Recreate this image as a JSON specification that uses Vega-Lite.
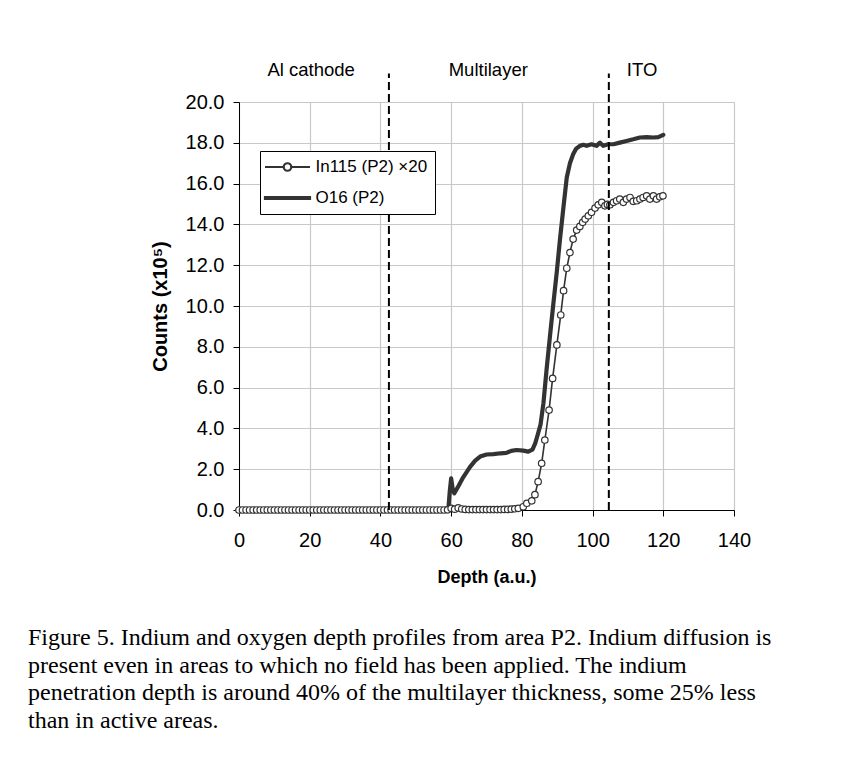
{
  "$schema": "https://vega.github.io/schema/vega-lite/v6.json",
  "width": 495,
  "height": 408,
  "autosize": {"type": "none"},
  "padding": {"left": 239, "top": 102, "right": 130, "bottom": 264},
  "background": "white",
  "config": {
    "view": {"stroke": null},
    "font": "Liberation Sans",
    "axis": {
      "domainColor": "#000000",
      "domainWidth": 1,
      "tickColor": "#000000",
      "tickWidth": 1,
      "gridColor": "#c8c8c8",
      "gridWidth": 1.2,
      "labelFont": "Liberation Sans",
      "labelFontSize": 20,
      "labelColor": "#000000",
      "titleFont": "Liberation Sans",
      "titleFontSize": 18,
      "titleFontWeight": "bold",
      "titleColor": "#000000",
      "labelFlush": false,
      "labelOverlap": false
    }
  },
  "title": {
    "text": [
      "Figure 5. Indium and oxygen depth profiles from area P2. Indium diffusion is",
      "present even in areas to which no field has been applied. The indium",
      "penetration depth is around 40% of the multilayer thickness, some 25% less",
      "than in active areas."
    ],
    "orient": "bottom",
    "anchor": "start",
    "frame": "group",
    "dx": -211,
    "offset": 40,
    "font": "Liberation Serif",
    "fontSize": 24,
    "fontWeight": "normal",
    "lineHeight": 27.5,
    "color": "#000000"
  },
  "datasets": {
    "in115": [
      {"depth": 0, "counts": 0, "series": "In115 (P2) ×20"},
      {"depth": 1, "counts": 0, "series": "In115 (P2) ×20"},
      {"depth": 2, "counts": 0, "series": "In115 (P2) ×20"},
      {"depth": 3, "counts": 0, "series": "In115 (P2) ×20"},
      {"depth": 4, "counts": 0, "series": "In115 (P2) ×20"},
      {"depth": 5, "counts": 0, "series": "In115 (P2) ×20"},
      {"depth": 6, "counts": 0, "series": "In115 (P2) ×20"},
      {"depth": 7, "counts": 0, "series": "In115 (P2) ×20"},
      {"depth": 8, "counts": 0, "series": "In115 (P2) ×20"},
      {"depth": 9, "counts": 0, "series": "In115 (P2) ×20"},
      {"depth": 10, "counts": 0, "series": "In115 (P2) ×20"},
      {"depth": 11, "counts": 0, "series": "In115 (P2) ×20"},
      {"depth": 12, "counts": 0, "series": "In115 (P2) ×20"},
      {"depth": 13, "counts": 0, "series": "In115 (P2) ×20"},
      {"depth": 14, "counts": 0, "series": "In115 (P2) ×20"},
      {"depth": 15, "counts": 0, "series": "In115 (P2) ×20"},
      {"depth": 16, "counts": 0, "series": "In115 (P2) ×20"},
      {"depth": 17, "counts": 0, "series": "In115 (P2) ×20"},
      {"depth": 18, "counts": 0, "series": "In115 (P2) ×20"},
      {"depth": 19, "counts": 0, "series": "In115 (P2) ×20"},
      {"depth": 20, "counts": 0, "series": "In115 (P2) ×20"},
      {"depth": 21, "counts": 0, "series": "In115 (P2) ×20"},
      {"depth": 22, "counts": 0, "series": "In115 (P2) ×20"},
      {"depth": 23, "counts": 0, "series": "In115 (P2) ×20"},
      {"depth": 24, "counts": 0, "series": "In115 (P2) ×20"},
      {"depth": 25, "counts": 0, "series": "In115 (P2) ×20"},
      {"depth": 26, "counts": 0, "series": "In115 (P2) ×20"},
      {"depth": 27, "counts": 0, "series": "In115 (P2) ×20"},
      {"depth": 28, "counts": 0, "series": "In115 (P2) ×20"},
      {"depth": 29, "counts": 0, "series": "In115 (P2) ×20"},
      {"depth": 30, "counts": 0, "series": "In115 (P2) ×20"},
      {"depth": 31, "counts": 0, "series": "In115 (P2) ×20"},
      {"depth": 32, "counts": 0, "series": "In115 (P2) ×20"},
      {"depth": 33, "counts": 0, "series": "In115 (P2) ×20"},
      {"depth": 34, "counts": 0, "series": "In115 (P2) ×20"},
      {"depth": 35, "counts": 0, "series": "In115 (P2) ×20"},
      {"depth": 36, "counts": 0, "series": "In115 (P2) ×20"},
      {"depth": 37, "counts": 0, "series": "In115 (P2) ×20"},
      {"depth": 38, "counts": 0, "series": "In115 (P2) ×20"},
      {"depth": 39, "counts": 0, "series": "In115 (P2) ×20"},
      {"depth": 40, "counts": 0, "series": "In115 (P2) ×20"},
      {"depth": 41, "counts": 0, "series": "In115 (P2) ×20"},
      {"depth": 42, "counts": 0, "series": "In115 (P2) ×20"},
      {"depth": 43, "counts": 0, "series": "In115 (P2) ×20"},
      {"depth": 44, "counts": 0, "series": "In115 (P2) ×20"},
      {"depth": 45, "counts": 0, "series": "In115 (P2) ×20"},
      {"depth": 46, "counts": 0, "series": "In115 (P2) ×20"},
      {"depth": 47, "counts": 0, "series": "In115 (P2) ×20"},
      {"depth": 48, "counts": 0, "series": "In115 (P2) ×20"},
      {"depth": 49, "counts": 0, "series": "In115 (P2) ×20"},
      {"depth": 50, "counts": 0, "series": "In115 (P2) ×20"},
      {"depth": 51, "counts": 0, "series": "In115 (P2) ×20"},
      {"depth": 52, "counts": 0, "series": "In115 (P2) ×20"},
      {"depth": 53, "counts": 0, "series": "In115 (P2) ×20"},
      {"depth": 54, "counts": 0, "series": "In115 (P2) ×20"},
      {"depth": 55, "counts": 0, "series": "In115 (P2) ×20"},
      {"depth": 56, "counts": 0, "series": "In115 (P2) ×20"},
      {"depth": 57, "counts": 0, "series": "In115 (P2) ×20"},
      {"depth": 58, "counts": 0, "series": "In115 (P2) ×20"},
      {"depth": 59, "counts": 0.01, "series": "In115 (P2) ×20"},
      {"depth": 60, "counts": 0.08, "series": "In115 (P2) ×20"},
      {"depth": 61, "counts": 0.04, "series": "In115 (P2) ×20"},
      {"depth": 62, "counts": 0.1, "series": "In115 (P2) ×20"},
      {"depth": 63, "counts": 0.05, "series": "In115 (P2) ×20"},
      {"depth": 64, "counts": 0.03, "series": "In115 (P2) ×20"},
      {"depth": 65, "counts": 0.02, "series": "In115 (P2) ×20"},
      {"depth": 66, "counts": 0.02, "series": "In115 (P2) ×20"},
      {"depth": 67, "counts": 0.02, "series": "In115 (P2) ×20"},
      {"depth": 68, "counts": 0.02, "series": "In115 (P2) ×20"},
      {"depth": 69, "counts": 0.02, "series": "In115 (P2) ×20"},
      {"depth": 70, "counts": 0.02, "series": "In115 (P2) ×20"},
      {"depth": 71, "counts": 0.02, "series": "In115 (P2) ×20"},
      {"depth": 72, "counts": 0.02, "series": "In115 (P2) ×20"},
      {"depth": 73, "counts": 0.02, "series": "In115 (P2) ×20"},
      {"depth": 74, "counts": 0.02, "series": "In115 (P2) ×20"},
      {"depth": 75, "counts": 0.03, "series": "In115 (P2) ×20"},
      {"depth": 76, "counts": 0.03, "series": "In115 (P2) ×20"},
      {"depth": 77, "counts": 0.04, "series": "In115 (P2) ×20"},
      {"depth": 78, "counts": 0.06, "series": "In115 (P2) ×20"},
      {"depth": 79.0, "counts": 0.08, "series": "In115 (P2) ×20"},
      {"depth": 80.4, "counts": 0.16, "series": "In115 (P2) ×20"},
      {"depth": 81.4, "counts": 0.33, "series": "In115 (P2) ×20"},
      {"depth": 82.8, "counts": 0.45, "series": "In115 (P2) ×20"},
      {"depth": 83.7, "counts": 0.75, "series": "In115 (P2) ×20"},
      {"depth": 84.6, "counts": 1.39, "series": "In115 (P2) ×20"},
      {"depth": 85.6, "counts": 2.29, "series": "In115 (P2) ×20"},
      {"depth": 86.5, "counts": 3.43, "series": "In115 (P2) ×20"},
      {"depth": 87.7, "counts": 4.9, "series": "In115 (P2) ×20"},
      {"depth": 88.7, "counts": 6.45, "series": "In115 (P2) ×20"},
      {"depth": 89.9, "counts": 8.09, "series": "In115 (P2) ×20"},
      {"depth": 91.0, "counts": 9.56, "series": "In115 (P2) ×20"},
      {"depth": 91.8, "counts": 10.75, "series": "In115 (P2) ×20"},
      {"depth": 92.7, "counts": 11.85, "series": "In115 (P2) ×20"},
      {"depth": 93.6, "counts": 12.62, "series": "In115 (P2) ×20"},
      {"depth": 94.5, "counts": 13.28, "series": "In115 (P2) ×20"},
      {"depth": 95.5, "counts": 13.72, "series": "In115 (P2) ×20"},
      {"depth": 96.4, "counts": 13.9, "series": "In115 (P2) ×20"},
      {"depth": 97.2, "counts": 14.1, "series": "In115 (P2) ×20"},
      {"depth": 97.9, "counts": 14.26, "series": "In115 (P2) ×20"},
      {"depth": 98.8, "counts": 14.42, "series": "In115 (P2) ×20"},
      {"depth": 99.7, "counts": 14.59, "series": "In115 (P2) ×20"},
      {"depth": 100.7, "counts": 14.8, "series": "In115 (P2) ×20"},
      {"depth": 101.6, "counts": 14.96, "series": "In115 (P2) ×20"},
      {"depth": 102.6, "counts": 15.08, "series": "In115 (P2) ×20"},
      {"depth": 103.5, "counts": 14.91, "series": "In115 (P2) ×20"},
      {"depth": 104.2, "counts": 14.98, "series": "In115 (P2) ×20"},
      {"depth": 104.9, "counts": 14.96, "series": "In115 (P2) ×20"},
      {"depth": 105.9, "counts": 15.08, "series": "In115 (P2) ×20"},
      {"depth": 106.8, "counts": 15.16, "series": "In115 (P2) ×20"},
      {"depth": 107.7, "counts": 15.24, "series": "In115 (P2) ×20"},
      {"depth": 108.7, "counts": 15.08, "series": "In115 (P2) ×20"},
      {"depth": 109.6, "counts": 15.24, "series": "In115 (P2) ×20"},
      {"depth": 110.6, "counts": 15.32, "series": "In115 (P2) ×20"},
      {"depth": 111.5, "counts": 15.13, "series": "In115 (P2) ×20"},
      {"depth": 112.5, "counts": 15.16, "series": "In115 (P2) ×20"},
      {"depth": 113.4, "counts": 15.24, "series": "In115 (P2) ×20"},
      {"depth": 114.3, "counts": 15.32, "series": "In115 (P2) ×20"},
      {"depth": 115.3, "counts": 15.4, "series": "In115 (P2) ×20"},
      {"depth": 116.2, "counts": 15.24, "series": "In115 (P2) ×20"},
      {"depth": 117.2, "counts": 15.4, "series": "In115 (P2) ×20"},
      {"depth": 118.1, "counts": 15.24, "series": "In115 (P2) ×20"},
      {"depth": 119.0, "counts": 15.35, "series": "In115 (P2) ×20"},
      {"depth": 119.9, "counts": 15.4, "series": "In115 (P2) ×20"}
    ],
    "o16": [
      {"depth": 0, "counts": 0, "series": "O16 (P2)"},
      {"depth": 59.2, "counts": 0, "series": "O16 (P2)"},
      {"depth": 59.6, "counts": 0.9, "series": "O16 (P2)"},
      {"depth": 60.0, "counts": 1.55, "series": "O16 (P2)"},
      {"depth": 60.5, "counts": 0.95, "series": "O16 (P2)"},
      {"depth": 60.9, "counts": 0.82, "series": "O16 (P2)"},
      {"depth": 62.0, "counts": 1.15, "series": "O16 (P2)"},
      {"depth": 63.4, "counts": 1.6, "series": "O16 (P2)"},
      {"depth": 65.3, "counts": 2.1, "series": "O16 (P2)"},
      {"depth": 66.8, "counts": 2.42, "series": "O16 (P2)"},
      {"depth": 68.2, "counts": 2.62, "series": "O16 (P2)"},
      {"depth": 70.0, "counts": 2.72, "series": "O16 (P2)"},
      {"depth": 72.0, "counts": 2.74, "series": "O16 (P2)"},
      {"depth": 74.0, "counts": 2.78, "series": "O16 (P2)"},
      {"depth": 75.6, "counts": 2.8, "series": "O16 (P2)"},
      {"depth": 77.0, "counts": 2.9, "series": "O16 (P2)"},
      {"depth": 78.5, "counts": 2.94, "series": "O16 (P2)"},
      {"depth": 80.4, "counts": 2.91, "series": "O16 (P2)"},
      {"depth": 81.8, "counts": 2.86, "series": "O16 (P2)"},
      {"depth": 83.0, "counts": 2.96, "series": "O16 (P2)"},
      {"depth": 83.8, "counts": 3.28, "series": "O16 (P2)"},
      {"depth": 84.5, "counts": 3.7, "series": "O16 (P2)"},
      {"depth": 85.3, "counts": 4.2, "series": "O16 (P2)"},
      {"depth": 86.1, "counts": 5.23, "series": "O16 (P2)"},
      {"depth": 87.0, "counts": 6.9, "series": "O16 (P2)"},
      {"depth": 88.0, "counts": 8.6, "series": "O16 (P2)"},
      {"depth": 88.9, "counts": 10.1, "series": "O16 (P2)"},
      {"depth": 89.9, "counts": 11.7, "series": "O16 (P2)"},
      {"depth": 90.8, "counts": 13.3, "series": "O16 (P2)"},
      {"depth": 91.8, "counts": 14.9, "series": "O16 (P2)"},
      {"depth": 92.7, "counts": 16.3, "series": "O16 (P2)"},
      {"depth": 93.6, "counts": 17.0, "series": "O16 (P2)"},
      {"depth": 94.5, "counts": 17.44, "series": "O16 (P2)"},
      {"depth": 95.3, "counts": 17.7, "series": "O16 (P2)"},
      {"depth": 96.4, "counts": 17.85, "series": "O16 (P2)"},
      {"depth": 97.4, "counts": 17.9, "series": "O16 (P2)"},
      {"depth": 98.3, "counts": 17.85, "series": "O16 (P2)"},
      {"depth": 99.7, "counts": 17.93, "series": "O16 (P2)"},
      {"depth": 101.1, "counts": 17.85, "series": "O16 (P2)"},
      {"depth": 102.1, "counts": 18.01, "series": "O16 (P2)"},
      {"depth": 103.0, "counts": 17.85, "series": "O16 (P2)"},
      {"depth": 104.4, "counts": 17.93, "series": "O16 (P2)"},
      {"depth": 105.9, "counts": 17.93, "series": "O16 (P2)"},
      {"depth": 107.7, "counts": 18.01, "series": "O16 (P2)"},
      {"depth": 109.6, "counts": 18.09, "series": "O16 (P2)"},
      {"depth": 111.5, "counts": 18.17, "series": "O16 (P2)"},
      {"depth": 113.4, "counts": 18.26, "series": "O16 (P2)"},
      {"depth": 115.3, "counts": 18.28, "series": "O16 (P2)"},
      {"depth": 117.2, "counts": 18.26, "series": "O16 (P2)"},
      {"depth": 118.6, "counts": 18.28, "series": "O16 (P2)"},
      {"depth": 120.0, "counts": 18.39, "series": "O16 (P2)"}
    ],
    "boundaries": [
      {"depth": 42.4},
      {"depth": 104.6}
    ],
    "regions": [
      {"depth": 20.4, "label": "Al cathode"},
      {"depth": 70.5, "label": "Multilayer"},
      {"depth": 114.0, "label": "ITO"}
    ]
  },
  "layer": [
    {
      "data": {"name": "o16"},
      "mark": {"type": "line", "strokeWidth": 4.2, "strokeJoin": "round", "strokeCap": "round"},
      "encoding": {
        "x": {
          "field": "depth",
          "type": "quantitative",
          "title": "Depth (a.u.)",
          "scale": {"domain": [0, 140], "nice": false, "zero": false},
          "axis": {
            "values": [0, 10, 20, 30, 40, 50, 60, 70, 80, 90, 100, 110, 120, 130, 140],
            "format": "d",
            "labelExpr": "datum.value % 20 === 0 ? datum.label : ''",
            "gridColor": {"condition": {"test": "datum.value % 20 !== 0", "value": "rgba(0,0,0,0)"}, "value": "#c8c8c8"},
            "tickSize": 6,
            "labelPadding": 14,
            "titlePadding": 18
          }
        },
        "y": {
          "field": "counts",
          "type": "quantitative",
          "title": "Counts (x10⁵)",
          "scale": {"domain": [0, 20], "nice": false, "zero": false},
          "axis": {
            "values": [0, 2, 4, 6, 8, 10, 12, 14, 16, 18, 20],
            "format": ".1f",
            "tickSize": 6,
            "labelPadding": 9,
            "titlePadding": 15,
            "titleFontSize": 20
          }
        },
        "color": {
          "field": "series",
          "type": "nominal",
          "scale": {"domain": ["In115 (P2) ×20", "O16 (P2)"], "range": ["#333333", "#333333"]},
          "legend": {
            "orient": "none",
            "legendX": 21,
            "legendY": 49,
            "title": null,
            "padding": 7.5,
            "strokeColor": "#000000",
            "fillColor": "#ffffff",
            "cornerRadius": 0,
            "labelFont": "Liberation Sans",
            "labelFontSize": 17,
            "labelColor": "#000000",
            "symbolSize": 100,
            "symbolStrokeWidth": 2.2,
            "symbolOffset": 11.5,
            "labelOffset": 19.5,
            "rowPadding": 13,
            "symbolType": "stroke",
            "encode": {
              "symbols": {
                "update": {
                  "shape": [
                    {"test": "datum.value === 'O16 (P2)'", "value": "M-4.5,-0.2H4.5V0.2H-4.5Z"},
                    {"value": "M-4.5,0H-0.75M0.75,0H4.5M0.75,0A0.75,0.75,0,1,1,-0.75,0A0.75,0.75,0,1,1,0.75,0Z"}
                  ],
                  "fill": [
                    {"test": "datum.value === 'O16 (P2)'", "value": "#333333"},
                    {"value": "#ffffff"}
                  ],
                  "stroke": {"value": "#333333"},
                  "opacity": {"value": 1}
                }
              }
            }
          }
        }
      }
    },
    {
      "data": {"name": "in115"},
      "mark": {"type": "line", "strokeWidth": 1.6},
      "encoding": {
        "x": {"field": "depth", "type": "quantitative", "title": "Depth (a.u.)"},
        "y": {"field": "counts", "type": "quantitative", "title": "Counts (x10⁵)"},
        "color": {"field": "series", "type": "nominal"}
      }
    },
    {
      "data": {"name": "in115"},
      "mark": {"type": "point", "shape": "circle", "filled": true, "fill": "#ffffff", "stroke": "#333333", "strokeWidth": 1.2, "size": 42, "opacity": 1},
      "encoding": {
        "x": {"field": "depth", "type": "quantitative", "title": "Depth (a.u.)"},
        "y": {"field": "counts", "type": "quantitative", "title": "Counts (x10⁵)"}
      }
    },
    {
      "data": {"name": "boundaries"},
      "mark": {"type": "rule", "color": "#000000", "strokeWidth": 2, "strokeDash": [8, 4]},
      "encoding": {
        "x": {"field": "depth", "type": "quantitative", "title": "Depth (a.u.)"},
        "y": {"datum": 0, "type": "quantitative", "title": "Counts (x10⁵)"},
        "y2": {"datum": 21.4}
      }
    },
    {
      "data": {"name": "regions"},
      "mark": {"type": "text", "font": "Liberation Sans", "fontSize": 18.5, "color": "#000000", "baseline": "middle", "align": "center"},
      "encoding": {
        "x": {"field": "depth", "type": "quantitative", "title": "Depth (a.u.)"},
        "y": {"datum": 21.55, "type": "quantitative", "title": "Counts (x10⁵)"},
        "text": {"field": "label"}
      }
    }
  ]
}
